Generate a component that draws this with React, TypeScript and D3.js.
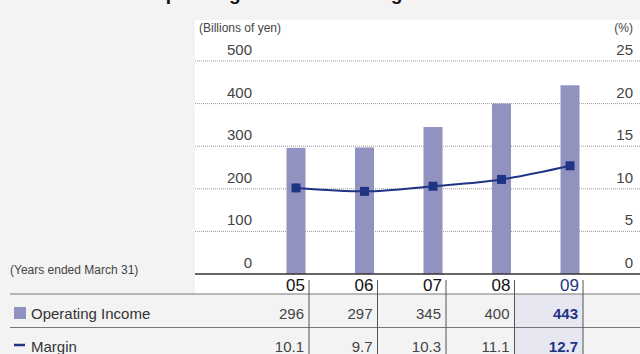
import React from "react";
import * as d3 from "d3";

const years = ["05", "06", "07", "08", "09"];
const operatingIncome = [296, 297, 345, 400, 443];
const margin = [10.1, 9.7, 10.3, 11.1, 12.7];
const leftTicks = [0, 100, 200, 300, 400, 500];
const rightTicks = [0, 5, 10, 15, 20, 25];
const incomeLabels = ["296", "297", "345", "400", "443"];
const marginLabels = ["10.1", "9.7", "10.3", "11.1", "12.7"];

const W = 640;
const H = 354;
const BAR = "#9192c0";
const NAVY = "#1f3584";
const BG = "#f3f3f3";
const FONT = "'Liberation Sans', Arial, sans-serif";

export default function App() {
  const x = d3.scaleBand<string>().domain(years).range([261.75, 604.25]).padding(0);
  const cx = (d: string) => (x(d) as number) + x.bandwidth() / 2;
  const y = d3.scaleLinear().domain([0, 500]).range([274, 61]);
  const y2 = d3.scaleLinear().domain([0, 25]).range([274, 61]);
  const barW = 19;
  const tickX = (d: string) => cx(d) + 13;

  const line = d3
    .line<number>()
    .x((_, i) => cx(years[i]))
    .y((v) => y2(v))
    .curve(d3.curveMonotoneX);

  const lastTick = tickX(years[years.length - 1]);
  const prevTick = tickX(years[years.length - 2]);

  return (
    <svg
      width={W}
      height={H}
      style={{ position: "absolute", left: 0, top: 0, fontFamily: FONT }}
    >
      <rect x={0} y={0} width={W} height={H} fill={BG} />
      <text x={151} y={0} fontSize={19} fontWeight="bold" fill="#111">
        Operating Income and Margin
      </text>
      <rect x={195} y={20} width={W - 195} height={274} fill="#fff" />

      {/* highlighted column */}
      <rect x={prevTick} y={294} width={lastTick - prevTick} height={H - 294} fill="#e6e7f1" />

      {/* units */}
      <text x={199} y={32} fontSize={12} fill="#444">(Billions of yen)</text>
      <text x={633} y={32} fontSize={12} fill="#444" textAnchor="end">(%)</text>

      {/* gridlines */}
      {leftTicks.filter((t) => t > 0).map((t) => (
        <line
          key={t}
          x1={195}
          x2={W}
          y1={y(t)}
          y2={y(t)}
          stroke="#999"
          strokeWidth={1}
          strokeDasharray="1,1"
        />
      ))}

      {/* axis labels */}
      {leftTicks.map((t) => (
        <text key={"l" + t} x={252} y={y(t) - 6} fontSize={15} fill="#444" textAnchor="end">
          {t}
        </text>
      ))}
      {rightTicks.map((t) => (
        <text key={"r" + t} x={633} y={y2(t) - 6} fontSize={15} fill="#444" textAnchor="end">
          {t}
        </text>
      ))}

      {/* bars */}
      {operatingIncome.map((v, i) => (
        <rect
          key={years[i]}
          x={cx(years[i]) - barW / 2}
          y={y(v)}
          width={barW}
          height={y(0) - y(v)}
          fill={BAR}
        />
      ))}

      {/* margin line */}
      <path d={line(margin) || ""} fill="none" stroke={NAVY} strokeWidth={2} />
      {margin.map((v, i) => (
        <rect
          key={"m" + i}
          x={cx(years[i]) - 4.5}
          y={y2(v) - 4.5}
          width={9}
          height={9}
          fill={NAVY}
        />
      ))}

      {/* baseline */}
      <line x1={195} x2={W} y1={274} y2={274} stroke="#333" strokeWidth={1.5} />

      <text x={10} y={274} fontSize={12} fill="#444">(Years ended March 31)</text>

      {/* table lines */}
      <line x1={10} x2={W} y1={294} y2={294} stroke="#777" strokeWidth={1} />
      <line x1={10} x2={W} y1={327.5} y2={327.5} stroke="#777" strokeWidth={1} />
      {years.map((d) => (
        <line key={"v" + d} x1={tickX(d)} x2={tickX(d)} y1={280} y2={H} stroke="#555" strokeWidth={1} />
      ))}

      {/* year labels */}
      {years.map((d, i) => (
        <text
          key={"y" + d}
          x={tickX(d) - 4}
          y={291}
          fontSize={17}
          fill={i === years.length - 1 ? NAVY : "#111"}
          textAnchor="end"
        >
          {d}
        </text>
      ))}

      {/* row values */}
      {incomeLabels.map((s, i) => (
        <text
          key={"i" + i}
          x={tickX(years[i]) - 5}
          y={318.5}
          fontSize={15}
          fill={i === years.length - 1 ? NAVY : "#444"}
          fontWeight={i === years.length - 1 ? "bold" : "normal"}
          textAnchor="end"
        >
          {s}
        </text>
      ))}
      {marginLabels.map((s, i) => (
        <text
          key={"g" + i}
          x={tickX(years[i]) - 5}
          y={351.5}
          fontSize={15}
          fill={i === years.length - 1 ? NAVY : "#444"}
          fontWeight={i === years.length - 1 ? "bold" : "normal"}
          textAnchor="end"
        >
          {s}
        </text>
      ))}

      {/* legend */}
      <rect x={14} y={307} width={12} height={12} fill={BAR} />
      <text x={31} y={318.5} fontSize={15} fill="#333">Operating Income</text>
      <line x1={14} x2={25} y1={345} y2={345} stroke={NAVY} strokeWidth={2.5} />
      <text x={31} y={351.5} fontSize={15} fill="#333">Margin</text>
    </svg>
  );
}
